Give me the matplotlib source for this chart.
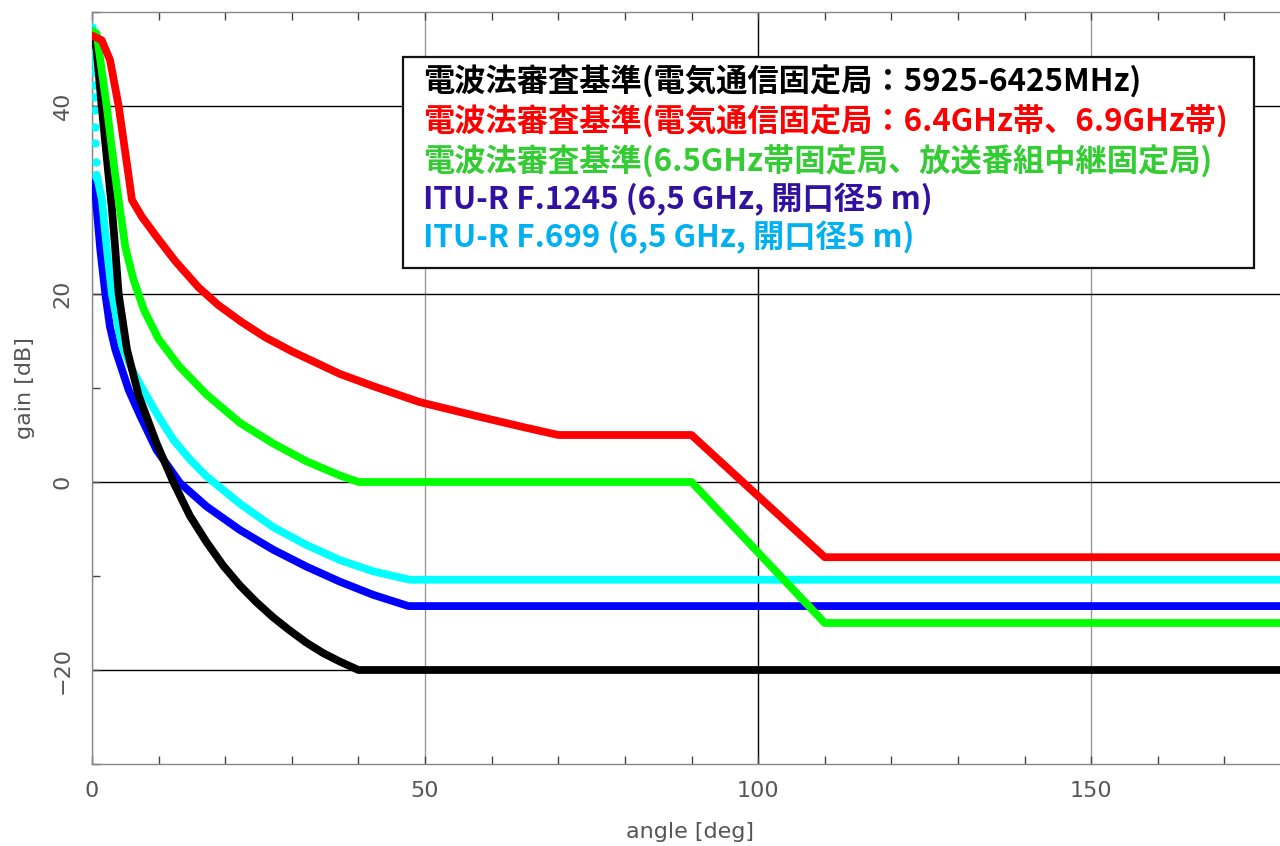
import matplotlib
matplotlib.use("Agg")
import matplotlib.pyplot as plt
from matplotlib.patches import Rectangle
from matplotlib.ticker import MultipleLocator

# ---- data ----
black_deg = [0, 0.7, 1.45, 2.5, 3.0, 3.5, 4.0, 5.25, 7.0, 9.7, 12.2, 14.7, 17.2, 19.7, 22.2, 24.7, 27.2, 29.7, 32.2, 34.7, 37.2, 40, 180]
black_db = [48, 46.0, 40.0, 32.5, 29.0, 24.7, 20.0, 14.1, 9.2, 4.1, 0.0, -3.6, -6.4, -8.9, -11.0, -12.8, -14.4, -15.8, -17.1, -18.2, -19.1, -20, -20]

red_deg = [0, 1.45, 2.7, 4.0, 5.45, 6.0, 7.5, 10.0, 12.5, 16.0, 19.0, 22.5, 26.0, 30, 37.2, 42.2, 49.2, 58.4, 65, 70, 90, 110, 180]
red_db = [47.5, 47.0, 44.9, 40.0, 32.8, 30.0, 28.2, 25.8, 23.5, 20.7, 18.8, 17.0, 15.4, 13.9, 11.5, 10.2, 8.5, 6.9, 5.8, 5.0, 5.0, -8.0, -8.0]

green_deg = [0, 0.7, 2.2, 3.45, 4.0, 5.0, 6.2, 7.8, 10.0, 13.1, 17.2, 22.2, 27.2, 32.2, 37.2, 40, 90, 110, 180]
green_db = [48, 47.7, 40.0, 32.8, 30.0, 25.0, 21.6, 18.3, 15.2, 12.3, 9.3, 6.3, 4.1, 2.2, 0.7, 0.0, 0.0, -15.0, -15.0]

blue_deg = [0.45, 0.6, 1.25, 2.0, 2.7, 3.5, 5.5, 7.2, 9.7, 13.2, 17.2, 22.2, 27.2, 32.2, 37.2, 42.2, 47.5, 180]
blue_db = [32.1, 30.0, 24.7, 20.0, 16.5, 14.1, 9.8, 7.1, 3.4, -0.1, -2.6, -5.1, -7.2, -9.0, -10.6, -12.0, -13.2, -13.2]

cyan_ml_deg = [0, 0.05, 0.1, 0.15, 0.2, 0.25, 0.3, 0.35, 0.4, 0.45, 0.5, 0.55, 0.6]
cyan_ml_db = [48.4, 47.6, 46.5, 45.6, 44.7, 43.6, 42.2, 41.0, 39.6, 37.8, 36.1, 34.0, 32.4]
cyan_deg = [0.7, 1.5, 2.25, 3.0, 4.5, 6.0, 7.2, 9.7, 12.2, 14.7, 17.2, 22.2, 27.2, 32.2, 37.2, 42.2, 47.7, 180]
cyan_db = [32.7, 30.0, 24.7, 20.0, 14.5, 12.0, 10.4, 7.3, 4.5, 2.4, 0.6, -2.3, -4.8, -6.7, -8.3, -9.5, -10.4, -10.4]

legend_labels = [
    "電波法審査基準(電気通信固定局：5925-6425MHz)",
    "電波法審査基準(電気通信固定局：6.4GHz帯、6.9GHz帯)",
    "電波法審査基準(6.5GHz帯固定局、放送番組中継固定局)",
    "ITU-R F.1245 (6,5 GHz, 開口径5 m)",
    "ITU-R F.699 (6,5 GHz, 開口径5 m)",
]
legend_colors = ["#000000", "#ff0000", "#33cc33", "#3311a0", "#00b0f0"]

# ---- figure ----
W, H = 1280, 846
fig = plt.figure(figsize=(W / 100, H / 100), dpi=100)
ax = fig.add_axes([92 / W, (H - 764) / H, 1199 / W, 752 / H])
ax.set_xlim(0, 180)
ax.set_ylim(-30, 50)

lw = 5.6
kw = dict(lw=lw, solid_capstyle="round", solid_joinstyle="round")
ax.plot(blue_deg, blue_db, color="#0000ff", zorder=3, **kw)
ax.plot(cyan_deg, cyan_db, color="#00ffff", zorder=4, **kw)
ax.plot(cyan_ml_deg, cyan_ml_db, color="#00ffff", ls="none", marker="o", ms=5, zorder=4)
ax.plot(black_deg, black_db, color="#000000", zorder=5, **kw)
ax.plot(green_deg, green_db, color="#00ff00", zorder=6, **kw)
ax.plot(red_deg, red_db, color="#ff0000", zorder=7, **kw)

ax.set_xticks([0, 50, 100, 150])
ax.set_yticks([-20, 0, 20, 40])
ax.xaxis.set_minor_locator(MultipleLocator(10))
ax.yaxis.set_minor_locator(MultipleLocator(10))
ax.tick_params(which="both", direction="in", top=True, right=True, color="#444444", length=6, width=1)
ax.tick_params(axis="x", labelsize=16, labelcolor="#555555", pad=12)
ax.tick_params(axis="y", labelsize=16, labelcolor="#555555", pad=14, labelrotation=90)
for lab in ax.get_yticklabels():
    lab.set_va("center")

ax.set_axisbelow(True)
ax.grid(True, which="major", axis="y", color="#000000", lw=1)
ax.grid(True, which="major", axis="x", color="#999999", lw=1)
for val, gl in zip(ax.get_xticks(), ax.xaxis.get_gridlines()):
    if val == 100:
        gl.set_color("#000000")

for sp in ax.spines.values():
    sp.set_color("#888888")
    sp.set_linewidth(1)

fig.text(690 / W, 1 - 832 / H, "angle [deg]", ha="center", va="center", fontsize=16, color="#555555")
fig.text(25 / W, 1 - 388 / H, "gain [dB]", ha="center", va="center", rotation=90, fontsize=16, color="#555555")

# legend box
bx0, by0, bx1, by1 = 403, 57, 1254, 268
fig.patches.append(Rectangle((bx0 / W, 1 - by1 / H), (bx1 - bx0) / W, (by1 - by0) / H,
                             transform=fig.transFigure, facecolor="white", edgecolor="#111111",
                             lw=1.6, zorder=10))
ys = [82, 121, 161, 199, 237]
for lab, col, yy in zip(legend_labels, legend_colors, ys):
    fig.text(423 / W, 1 - yy / H, lab, ha="left", va="center", fontsize=22.5, fontweight="bold",
             color=col, family=["Noto Sans CJK JP", "DejaVu Sans"], zorder=11)

fig.savefig("out.png", dpi=100)
